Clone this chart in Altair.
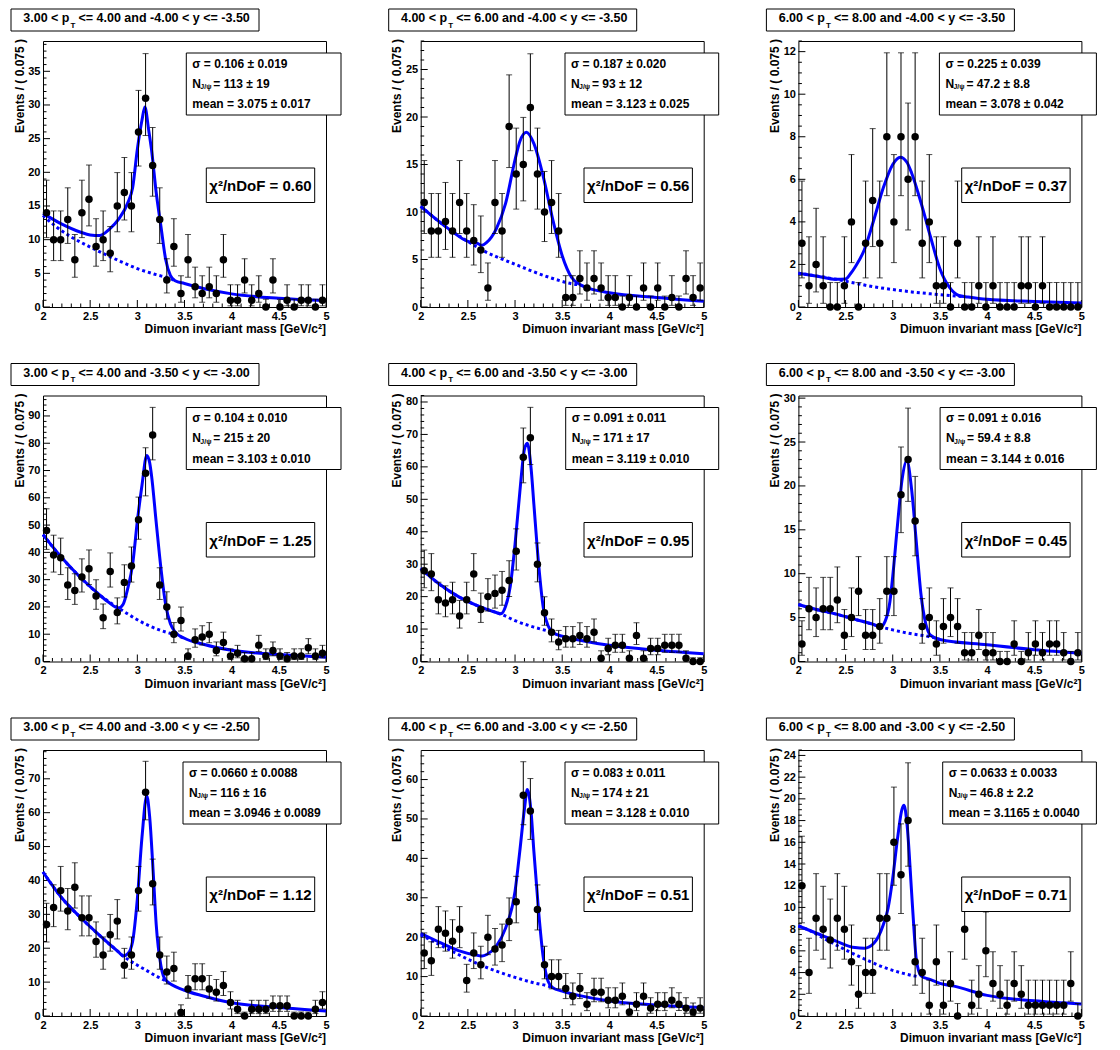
import math
import altair as alt
import pandas as pd

FONT = "Liberation Sans"
BLUE = "#0000ff"
W, H = 283, 266

# ---------------- data ----------------
bin_centers = [round(2.0 + 0.075 * (i + 0.5), 5) for i in range(40)]

counts_1 = [14, 10, 10, 13, 7, 14, 16, 9, 10, 8, 15, 17, 15, 26, 31, 21, 13, 4, 9, 2,
            7, 3, 2, 3, 2, 7, 1, 1, 4, 1, 2, 0, 4, 0, 1, 0, 1, 1, 0, 1]
counts_2 = [11, 8, 8, 9, 8, 11, 8, 7, 6, 2, 11, 8, 19, 14, 15, 21, 14, 10, 11, 8,
            1, 1, 3, 2, 3, 2, 1, 1, 0, 1, 0, 2, 0, 2, 0, 1, 0, 3, 1, 2]
counts_3 = [3, 1, 2, 1, 0, 0, 1, 4, 0, 3, 5, 3, 8, 4, 8, 6, 8, 3, 4, 1,
            1, 0, 3, 0, 0, 1, 0, 1, 0, 0, 0, 1, 1, 0, 1, 0, 0, 0, 0, 0]
counts_4 = [48, 39, 38, 28, 26, 31, 34, 24, 16, 33, 18, 29, 35, 52, 69, 83, 28, 20, 10, 15,
            2, 8, 9, 10, 4, 7, 2, 3, 1, 1, 6, 2, 4, 2, 1, 2, 2, 5, 2, 3]
counts_5 = [28, 27, 19, 18, 19, 14, 19, 27, 16, 20, 21, 22, 25, 34, 63, 69, 30, 15, 9, 6,
            7, 7, 8, 7, 9, 1, 4, 5, 5, 1, 8, 1, 4, 4, 5, 5, 5, 1, 0, 0]
counts_6 = [2, 6, 5, 6, 6, 7, 3, 5, 8, 3, 3, 4, 8, 8, 19, 23, 16, 4, 5, 2,
            4, 5, 4, 1, 1, 3, 1, 1, 0, 0, 2, 0, 1, 2, 1, 2, 2, 1, 0, 1]
counts_7 = [27, 32, 37, 31, 38, 29, 29, 22, 18, 24, 28, 15, 18, 37, 66, 39, 18, 13, 14, 1,
            8, 11, 11, 8, 7, 9, 4, 2, 0, 2, 2, 2, 3, 3, 3, 0, 0, 0, 2, 4]
counts_8 = [16, 14, 22, 21, 19, 22, 9, 16, 13, 20, 17, 18, 24, 29, 56, 52, 27, 13, 10, 10,
            7, 5, 7, 3, 6, 6, 4, 4, 5, 1, 3, 5, 2, 3, 3, 4, 3, 2, 1, 2]
counts_9 = [12, 4, 9, 8, 7, 9, 8, 5, 2, 4, 4, 9, 9, 16, 13, 18, 5, 4, 1, 5,
            1, 3, 0, 8, 1, 2, 6, 3, 2, 1, 3, 2, 1, 1, 1, 1, 1, 1, 3, 0]
counts = [counts_1, counts_2, counts_3, counts_4, counts_5, counts_6, counts_7, counts_8, counts_9]

# fitted total pdf (solid)
fit_x = [
    [2.0, 2.2, 2.4, 2.5, 2.6, 2.7, 2.8, 2.9, 2.95, 3.0, 3.05, 3.08, 3.12, 3.15, 3.2, 3.25, 3.3, 3.35, 3.4, 3.5, 3.75, 4.0, 4.5, 5.0],
    [2.0, 2.3, 2.5, 2.6, 2.65, 2.7, 2.8, 2.9, 3.0, 3.05, 3.12, 3.2, 3.3, 3.4, 3.5, 3.6, 3.7, 3.8, 4.0, 4.5, 5.0],
    [2.0, 2.2, 2.4, 2.5, 2.55, 2.6, 2.7, 2.8, 2.9, 3.0, 3.08, 3.15, 3.2, 3.3, 3.4, 3.5, 3.6, 3.7, 3.8, 4.0, 4.5, 5.0],
    [2.0, 2.2, 2.4, 2.6, 2.7, 2.8, 2.85, 2.9, 2.95, 3.0, 3.05, 3.1, 3.13, 3.15, 3.2, 3.25, 3.3, 3.35, 3.4, 3.5, 3.7, 4.0, 4.5, 5.0],
    [2.0, 2.2, 2.4, 2.6, 2.8, 2.85, 2.9, 2.95, 3.0, 3.05, 3.1, 3.13, 3.17, 3.2, 3.25, 3.3, 3.35, 3.4, 3.5, 3.7, 4.0, 4.5, 5.0],
    [2.0, 2.2, 2.4, 2.6, 2.8, 2.87, 2.92, 2.97, 3.0, 3.05, 3.1, 3.15, 3.2, 3.25, 3.3, 3.35, 3.4, 3.5, 4.0, 4.5, 5.0],
    [2.0, 2.2, 2.4, 2.6, 2.8, 2.85, 2.9, 2.95, 3.0, 3.05, 3.1, 3.13, 3.17, 3.2, 3.25, 3.3, 3.5, 3.7, 4.0, 4.5, 5.0],
    [2.0, 2.2, 2.4, 2.6, 2.65, 2.7, 2.8, 2.9, 3.0, 3.05, 3.1, 3.13, 3.17, 3.2, 3.25, 3.3, 3.35, 3.4, 3.5, 3.7, 4.0, 4.5, 5.0],
    [2.0, 2.2, 2.4, 2.6, 2.7, 2.8, 2.9, 2.95, 3.0, 3.05, 3.1, 3.12, 3.15, 3.2, 3.225, 3.25, 3.3, 3.4, 3.5, 3.65, 4.0, 4.5, 5.0],
]
fit_y = [
    [13.9, 12.3, 11.1, 10.7, 10.6, 11.5, 13.0, 15.5, 17.7, 23.4, 27.8, 29.7, 26.3, 23.4, 17.0, 12.0, 7.1, 4.7, 3.9, 3.5, 2.6, 1.95, 1.3, 0.95],
    [10.6, 8.2, 6.9, 6.7, 6.5, 6.8, 8.2, 10.9, 15.5, 17.4, 18.4, 17.2, 13.7, 9.2, 5.4, 3.1, 2.3, 1.9, 1.5, 1.0, 0.6],
    [1.59, 1.45, 1.3, 1.32, 1.55, 1.87, 2.7, 4.1, 5.6, 6.7, 7.04, 6.8, 6.3, 4.9, 3.3, 1.8, 0.93, 0.54, 0.47, 0.36, 0.26, 0.19],
    [46.5, 38.0, 30.7, 24.4, 21.6, 19.6, 21.0, 27.0, 35.6, 51.4, 64.8, 75.5, 73.0, 68.3, 51.0, 34.2, 20.9, 13.9, 10.9, 8.5, 6.3, 4.1, 2.6, 1.6],
    [28.7, 23.8, 20.0, 17.2, 15.1, 14.7, 17.0, 23.3, 36.1, 52.0, 65.5, 67.3, 59.6, 48.4, 30.0, 16.5, 11.0, 9.0, 7.8, 6.5, 5.0, 3.5, 2.4],
    [6.5, 5.9, 5.4, 4.8, 4.2, 3.95, 4.6, 6.8, 9.7, 15.5, 20.8, 22.9, 19.6, 13.6, 7.6, 4.3, 3.0, 2.5, 1.9, 1.35, 0.94],
    [42.5, 34.8, 29.0, 23.8, 18.9, 17.7, 18.4, 22.0, 34.5, 53.0, 65.0, 59.0, 41.5, 27.0, 14.8, 10.6, 7.6, 5.9, 3.9, 2.5, 1.5],
    [21.0, 18.7, 16.6, 15.4, 15.2, 15.6, 17.7, 22.3, 31.6, 41.7, 52.6, 57.5, 51.8, 41.7, 26.5, 14.7, 8.8, 7.2, 6.3, 5.1, 3.8, 2.8, 2.1],
    [8.3, 7.6, 6.9, 6.3, 6.25, 6.7, 8.4, 9.9, 12.7, 16.3, 19.1, 19.4, 17.8, 11.4, 8.0, 5.2, 3.7, 3.35, 3.0, 2.75, 1.9, 1.4, 1.1],
]
# background component (dotted)
bkg_x = [
    [2.0, 2.15, 2.3, 2.5, 2.8, 3.0, 3.2, 3.35, 3.4],
    [2.0, 2.3, 2.5, 2.65, 2.8, 3.0, 3.2, 3.4, 3.6, 3.7],
    [2.0, 2.4, 2.6, 2.8, 3.0, 3.2, 3.4, 3.6, 3.75],
    [2.0, 2.2, 2.4, 2.6, 2.8, 2.9, 3.0, 3.1, 3.2, 3.3, 3.4, 3.5],
    [2.0, 2.2, 2.4, 2.6, 2.8, 2.85, 3.0, 3.2, 3.35, 3.4],
    [2.0, 2.2, 2.4, 2.6, 2.8, 2.87, 3.0, 3.2, 3.4, 3.5],
    [2.0, 2.2, 2.4, 2.6, 2.8, 2.85, 3.0, 3.1, 3.2, 3.3],
    [2.0, 2.2, 2.4, 2.6, 2.8, 3.0, 3.2, 3.35, 3.4],
    [2.0, 2.1, 2.3, 2.52, 2.7, 2.87, 3.1, 3.28],
]
bkg_y = [
    [13.6, 11.8, 10.4, 8.9, 6.9, 5.7, 4.8, 4.2, 3.9],
    [10.6, 8.2, 6.9, 6.0, 5.3, 4.5, 3.7, 3.0, 2.45, 2.3],
    [1.59, 1.3, 1.12, 0.95, 0.82, 0.71, 0.62, 0.54, 0.49],
    [46.5, 38.0, 30.7, 24.4, 19.6, 17.4, 15.3, 13.5, 12.0, 10.8, 9.8, 8.5],
    [28.7, 23.8, 20.0, 17.2, 15.1, 14.6, 12.6, 10.6, 9.4, 9.0],
    [6.5, 5.9, 5.4, 4.8, 4.2, 3.95, 3.6, 3.15, 2.8, 2.5],
    [42.5, 34.8, 29.0, 23.8, 18.9, 17.7, 15.0, 13.4, 11.8, 10.4],
    [20.6, 18.1, 15.6, 13.3, 11.4, 9.8, 8.4, 7.6, 7.2],
    [8.3, 7.95, 7.0, 6.0, 5.25, 4.6, 3.95, 3.6],
]

pt_bins = [("3.00", "4.00"), ("4.00", "6.00"), ("6.00", "8.00")]
y_bins = [("-4.00", "-3.50"), ("-3.50", "-3.00"), ("-3.00", "-2.50")]
sigma_vals = ["0.106 \u00b1 0.019", "0.187 \u00b1 0.020", "0.225 \u00b1 0.039",
              "0.104 \u00b1 0.010", "0.091 \u00b1 0.011", "0.091 \u00b1 0.016",
              "0.0660 \u00b1 0.0088", "0.083 \u00b1 0.011", "0.0633 \u00b1 0.0033"]
njpsi_vals = ["113 \u00b1 19", "93 \u00b1 12", "47.2 \u00b1 8.8",
              "215 \u00b1 20", "171 \u00b1 17", "59.4 \u00b1 8.8",
              "116 \u00b1 16", "174 \u00b1 21", "46.8 \u00b1 2.2"]
mean_vals = ["3.075 \u00b1 0.017", "3.123 \u00b1 0.025", "3.078 \u00b1 0.042",
             "3.103 \u00b1 0.010", "3.119 \u00b1 0.010", "3.144 \u00b1 0.016",
             "3.0946 \u00b1 0.0089", "3.128 \u00b1 0.010", "3.1165 \u00b1 0.0040"]
chi2_vals = ["0.60", "0.56", "0.37", "1.25", "0.95", "0.45", "1.12", "0.51", "0.71"]
y_max = [39.5, 28.0, 12.5, 97.5, 82.0, 30.3, 78.5, 67.5, 24.5]
y_step = [5, 5, 2, 10, 10, 5, 10, 10, 2]

# ---------------- layout / style ----------------
stat_left = [143.3, 144.3, 141.0, 143.3, 145.0, 141.7, 140.0, 144.3, 144.3]
STAT_RIGHT, STAT_TOP, STAT_BOT = 298, 12, 74
ONE = pd.DataFrame({"a": [0]})


def poisson_cdf(n, mu):
    term = math.exp(-mu)
    s = term
    for k in range(1, n + 1):
        term *= mu / k
        s += term
    return s


def poisson_interval(n):
    a = 0.158655
    if n == 0:
        return 0.0, -math.log(2 * a)
    lo_, hi_ = float(n), n + 10 * math.sqrt(n) + 10
    for _ in range(60):
        m = 0.5 * (lo_ + hi_)
        if poisson_cdf(n, m) > a:
            lo_ = m
        else:
            hi_ = m
    up = 0.5 * (lo_ + hi_)
    lo_, hi_ = 0.0, float(n)
    for _ in range(60):
        m = 0.5 * (lo_ + hi_)
        if poisson_cdf(n - 1, m) > 1 - a:
            lo_ = m
        else:
            hi_ = m
    low = 0.5 * (lo_ + hi_)
    return low, up


def txt(s, x, y, size, align="left", weight="bold", angle=None):
    kw = dict(text=s, align=align, baseline="middle", fontSize=size,
              fontWeight=weight, font=FONT, color="black")
    if angle is not None:
        kw["angle"] = angle
    return alt.Chart(ONE).mark_text(**kw).encode(x=alt.value(x), y=alt.value(y))


def box(x1, x2, y1, y2):
    return alt.Chart(ONE).mark_rect(fill="white", stroke="black", strokeWidth=1).encode(
        x=alt.value(x1), x2=alt.value(x2), y=alt.value(y1), y2=alt.value(y2))


def panel(k):
    row, col = divmod(k, 3)
    cnt = counts[k]
    lo, hi = [], []
    for n in cnt:
        l, u = poisson_interval(n)
        lo.append(l)
        hi.append(u)
    pts = pd.DataFrame({"m": bin_centers, "n": cnt, "lo": lo, "hi": hi})
    fit = pd.DataFrame({"m": fit_x[k], "v": fit_y[k]})
    bkg = pd.DataFrame({"m": bkg_x[k], "v": bkg_y[k]})

    xs = alt.Scale(domain=[2, 5], nice=False, zero=False)
    ys = alt.Scale(domain=[0, y_max[k]], nice=False, zero=False)

    x_major = [2, 2.5, 3, 3.5, 4, 4.5, 5]
    x_minor = [round(2 + 0.1 * j, 2) for j in range(31) if j % 5 != 0]
    step = y_step[k]
    y_major = list(range(0, int(y_max[k]) + 1, step))
    mstep = step / 5 if step >= 5 else 0.5
    nmin = int(y_max[k] / mstep) + 1
    y_minor = [round(j * mstep, 3) for j in range(nmin)
               if j * mstep <= y_max[k] and abs((j * mstep) / step - round((j * mstep) / step)) > 1e-6]

    xa = alt.Axis(values=x_major, format="~g", ticks=False, domain=False, grid=False,
                  labelFlush=False, labelOverlap=False, labelPadding=3, title=None)
    ya = alt.Axis(values=y_major, format="d", ticks=False, domain=False, grid=False,
                  labelFlush=False, labelOverlap=False, labelPadding=3, title=None)

    def X(f):
        return alt.X(f, scale=xs, axis=xa)

    def Y(f):
        return alt.Y(f, scale=ys, axis=ya)

    layers = []
    layers.append(alt.Chart(pd.DataFrame({"t": x_major})).mark_rule(color="black", strokeWidth=1)
                  .encode(x=X("t:Q"), y=alt.value(H), y2=alt.value(H - 7)))
    layers.append(alt.Chart(pd.DataFrame({"t": x_minor})).mark_rule(color="black", strokeWidth=1)
                  .encode(x=X("t:Q"), y=alt.value(H), y2=alt.value(H - 3.5)))
    layers.append(alt.Chart(pd.DataFrame({"t": y_major})).mark_rule(color="black", strokeWidth=1)
                  .encode(y=Y("t:Q"), x=alt.value(0), x2=alt.value(7)))
    layers.append(alt.Chart(pd.DataFrame({"t": y_minor})).mark_rule(color="black", strokeWidth=1)
                  .encode(y=Y("t:Q"), x=alt.value(0), x2=alt.value(3.5)))

    layers.append(alt.Chart(bkg).mark_line(color=BLUE, strokeWidth=3, strokeDash=[3, 3],
                                           interpolate="monotone")
                  .encode(x=X("m:Q"), y=Y("v:Q")))
    layers.append(alt.Chart(fit).mark_line(color=BLUE, strokeWidth=3, interpolate="monotone")
                  .encode(x=X("m:Q"), y=Y("v:Q")))

    base = alt.Chart(pts)
    layers.append(base.mark_rule(color="black", strokeWidth=1)
                  .encode(x=X("m:Q"), y=Y("lo:Q"), y2="hi:Q"))
    layers.append(base.mark_tick(orient="horizontal", size=6, thickness=1, color="black")
                  .encode(x=X("m:Q"), y=Y("hi:Q")))
    layers.append(base.mark_tick(orient="horizontal", size=6, thickness=1, color="black")
                  .encode(x=X("m:Q"), y=Y("lo:Q")))
    layers.append(base.mark_circle(size=56, color="black", opacity=1)
                  .encode(x=X("m:Q"), y=Y("n:Q")))

    # title box
    p1, p2 = pt_bins[col]
    y1, y2 = y_bins[row]
    layers.append(box(-32, 216, -32, -10))
    layers.append(txt(f"{p1} < p", 26.5, -23, 12.5, align="right"))
    layers.append(txt("T", 27.5, -15.5, 8))
    layers.append(txt(f"<= {p2} and {y1} < y <= {y2}", 35.5, -23, 12.5))

    # stat box
    sl = stat_left[k]
    layers.append(box(sl, STAT_RIGHT, STAT_TOP, STAT_BOT))
    layers.append(txt("\u03c3 =  " + sigma_vals[k], sl + 6, 22.5, 12))
    layers.append(txt("N", sl + 6, 42.5, 12))
    layers.append(txt("J/\u03c8", sl + 14, 46, 7))
    layers.append(txt("=  " + njpsi_vals[k], sl + 27, 42.5, 12))
    layers.append(txt("mean =  " + mean_vals[k], sl + 6, 63, 12))

    # chi2 box
    layers.append(box(163.3, 271.7, 127, 161.5))
    layers.append(txt("\u03c7\u00b2/nDoF = " + chi2_vals[k], 217.5, 145, 15, align="center"))

    # axis titles
    layers.append(txt("Dimuon invariant mass [GeV/c\u00b2]", W, H + 22, 12, align="right"))
    layers.append(txt("Events / ( 0.075 )", -23.5, -2, 12, align="right", angle=270))

    return alt.layer(*layers).properties(width=W, height=H)


panels = [panel(k) for k in range(9)]

chart = alt.concat(*panels, columns=3, spacing={"row": 88.5, "column": 94.7},
                   bounds="flush").properties(
    padding={"left": 2, "top": 0, "right": 2, "bottom": 2}
).configure_view(stroke="black", strokeWidth=1).configure_axis(
    labelFont=FONT, labelFontSize=11, labelFontWeight="bold", labelColor="black"
)

chart.save("out.html", embed_options={"renderer": "svg", "actions": False})
